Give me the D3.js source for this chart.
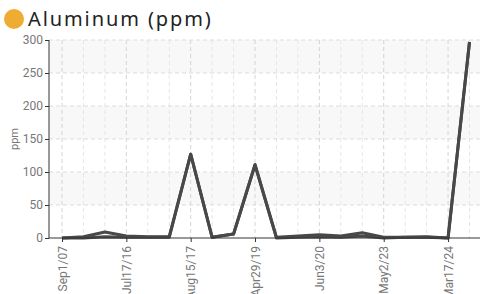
<!DOCTYPE html>
<html>
<head>
<meta charset="utf-8">
<script src="https://cdn.jsdelivr.net/npm/d3@7"></script>
<style>
body { margin: 0; background: #fff; }
svg { display: block; }
.tick text { font-family: "Liberation Sans Narrow", "Roboto", sans-serif; font-size: 12px; fill: #777; }
</style>
</head>
<body>
<div id="chart"></div>
<script>
//categories (sample dates) and the two readings per date
var dates = ["Sep1/07", "d1", "d2", "Jul17/16", "d4", "d5", "Aug15/17", "d7", "d8", "Apr29/19",
	"d10", "d11", "Jun3/20", "d13", "d14", "May2/23", "d16", "d17", "Mar17/24", "d19"];
var upperValues = [0, 2, 9, 3, 2, 2, 127, 1, 6, 111, 1, 3, 5, 3, 8, 1, 1, 2, 0, 297];
var lowerValues = [0, 0, 2, 1, 1, 1, 127, 1, 6, 111, 0, 1, 2, 1, 3, 0, 1, 1, 0, 297];
var labelDates = ["Sep1/07", "Jul17/16", "Aug15/17", "Apr29/19", "Jun3/20", "May2/23", "Mar17/24"];
var yTicks = [0, 50, 100, 150, 200, 250, 300];

var width = 480,
	height = 294,
	plotLeft = 49,
	plotTop = 40,
	plotBottom = 238;

var svg = d3.select("#chart")
	.append("svg")
		.attr("width", width)
		.attr("height", height);

//title with dot
svg.append("circle")
	.attr("cx", 14)
	.attr("cy", 19)
	.attr("r", 10)
	.style("fill", "#efac33");
svg.append("text")
	.attr("x", 28)
	.attr("y", 26)
	.style("font-family", "Noto Sans, sans-serif")
	.style("font-size", "20px")
	.style("letter-spacing", "1.9px")
	.style("fill", "#222")
	.text("Aluminum (ppm)");

var x = d3.scalePoint()
	.domain(dates)
	.range([62, 469.5]);

var y = d3.scaleLinear()
	.domain([0, 300])
	.range([plotBottom, plotTop]);

//alternating bands
for (var i = 0; i < yTicks.length - 1; i++) {
	if ((yTicks.length - 2 - i) % 2 == 0) {
		svg.append("rect")
			.attr("x", plotLeft)
			.attr("y", y(yTicks[i + 1]))
			.attr("width", width - plotLeft)
			.attr("height", y(yTicks[i]) - y(yTicks[i + 1]))
			.style("fill", "#f8f8f8");
	}
}

//grid
svg.selectAll(".vgrid")
	.data(dates)
	.enter()
	.append("line")
		.attr("x1", function(d) { return x(d); })
		.attr("x2", function(d) { return x(d); })
		.attr("y1", plotTop)
		.attr("y2", plotBottom)
		.style("stroke", function(d) { return labelDates.indexOf(d) >= 0 ? "#d4d4d4" : "#e6e6e6"; })
		.style("stroke-dasharray", "4,3");
svg.selectAll(".hgrid")
	.data(yTicks.slice(1))
	.enter()
	.append("line")
		.attr("x1", plotLeft)
		.attr("x2", width)
		.attr("y1", function(d) { return y(d); })
		.attr("y2", function(d) { return y(d); })
		.style("stroke", "#dcdcdc")
		.style("stroke-dasharray", "4,3");

//lines
var line = d3.line()
	.x(function(d, i) { return x(dates[i]); })
	.y(function(d) { return y(d); });
[upperValues, lowerValues].forEach(function(vals) {
	svg.append("path")
		.datum(vals)
		.attr("d", line)
		.style("fill", "none")
		.style("stroke", "#484848")
		.style("stroke-width", 3)
		.style("stroke-linejoin", "round");
});

//axes
var yAxis = svg.append("g")
	.attr("transform", "translate(" + plotLeft + ",0)")
	.call(d3.axisLeft(y).tickValues(yTicks).tickSize(4).tickPadding(2));
yAxis.select(".domain").style("stroke", "#333").attr("d", "M0," + plotTop + "V" + plotBottom);
yAxis.selectAll(".tick line").style("stroke", "#333");

var xAxis = svg.append("g")
	.attr("transform", "translate(0," + plotBottom + ")")
	.call(d3.axisBottom(x).tickValues(labelDates).tickSize(4).tickSizeOuter(0));
xAxis.select(".domain").style("stroke", "#333").attr("d", "M" + plotLeft + ",0H" + width);
xAxis.selectAll(".tick line").style("stroke", "#333");
xAxis.selectAll(".tick text")
	.attr("transform", "rotate(-90)")
	.attr("x", -8)
	.attr("y", 0)
	.attr("dy", "0.35em")
	.style("text-anchor", "end");

//y label
svg.append("text")
	.attr("transform", "translate(18," + ((plotTop + plotBottom) / 2) + ") rotate(-90)")
	.style("text-anchor", "middle")
	.style("font-family", "Liberation Sans Narrow, Roboto, sans-serif")
	.style("font-size", "11px")
	.style("fill", "#777")
	.text("ppm");
</script>
</body>
</html>
